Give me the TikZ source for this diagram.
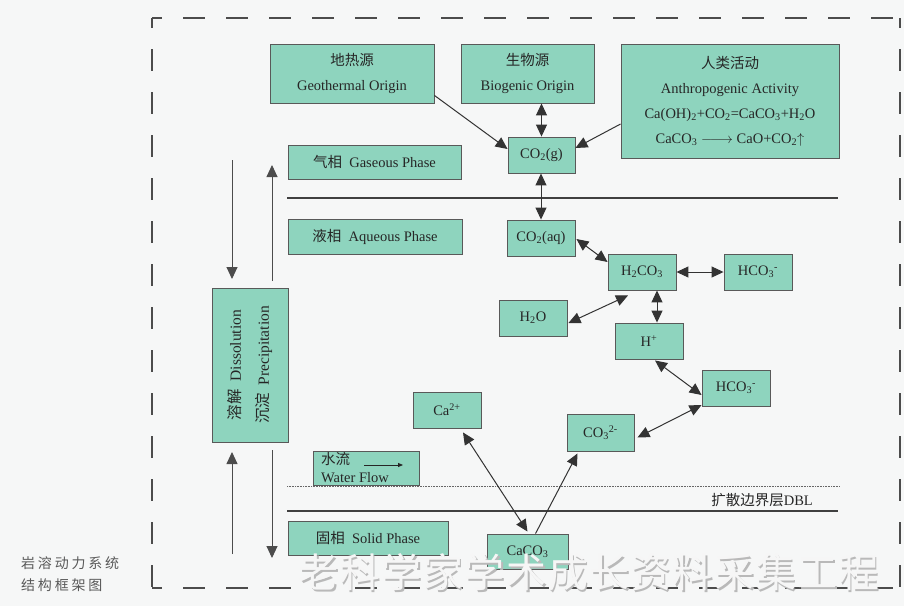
\documentclass[tikz,border=0pt]{standalone}
\usepackage{fontspec}
\setmainfont{Liberation Serif}
\newfontfamily\cjk{Noto Sans CJK SC}
\newfontfamily\capfont[LetterSpace=20]{Noto Sans CJK SC}
\newfontfamily\wmfont[LetterSpace=4]{Noto Sans CJK SC}
\usetikzlibrary{arrows.meta,calc}
\definecolor{boxfill}{RGB}{142,212,190}
\definecolor{bg}{RGB}{246,247,247}
\newcommand\chsub[1]{\textsubscript{#1}}
\newcommand\chsup[1]{\textsuperscript{#1}}
\begin{document}
\begin{tikzpicture}[x=1pt,y=-1pt,
  box/.style={draw=black!65, line width=0.9pt, fill=boxfill, inner sep=0pt,
    text=black!85, font=\fontsize{14.5}{17}\selectfont, align=center},
  conn/.style={draw=black!80, line width=1pt,
    {Triangle[length=12pt,width=11pt]}-{Triangle[length=12pt,width=11pt]}},
  one/.style={draw=black!80, line width=1pt, -{Triangle[length=12pt,width=11pt]}},
  side/.style={draw=black!70, line width=0.9pt, -{Triangle[length=12pt,width=11pt]}},
  sep/.style={draw=black!75, line width=1.3pt},
  border/.style={draw=black!70, line width=1.1pt, dash pattern=on 22pt off 21pt, dash phase=12pt},
  plain/.style={text=black!85, font=\fontsize{14.5}{17}\selectfont, inner sep=0pt}
]
\useasboundingbox[fill=bg] (0,0) rectangle (904,606);

% dashed frame
\draw[border] (152,18) -- (900,18);
\draw[border] (900,18) -- (900,588);
\draw[border] (152,18) -- (152,588);
\draw[border] (152,588) -- (900,588);

% separators
\draw[sep] (287,198) -- (838,198);
\draw[black!60, line width=0.6pt, densely dotted] (287,486) -- (840,486);
\draw[sep] (287,511) -- (838,511);

% top sources
\node[box, minimum width=164pt, minimum height=59pt, font=\fontsize{14.5}{25}\selectfont] (geo) at (352,73.5)
  {{\cjk 地热源}\\Geothermal Origin};
\node[box, minimum width=133pt, minimum height=59pt, font=\fontsize{14.5}{25}\selectfont] (bio) at (527.5,73.5)
  {{\cjk 生物源}\\Biogenic Origin};
\node[box, minimum width=218pt, minimum height=114pt, font=\fontsize{14.5}{25}\selectfont] (anth) at (730,101)
  {{\cjk 人类活动}\\Anthropogenic Activity\\
   Ca(OH)\chsub{2}+CO\chsub{2}=CaCO\chsub{3}+H\chsub{2}O\\
   CaCO\chsub{3} $\relbar\joinrel\relbar\joinrel\rightarrow$ CaO+CO\chsub{2}$\uparrow$};

% phases
\node[box, minimum width=173pt, minimum height=34pt] (gas) at (374.5,162) {{\cjk 气相}\ \ Gaseous Phase};
\node[box, minimum width=174pt, minimum height=35pt] (aq) at (375,236.5) {{\cjk 液相}\ \ Aqueous Phase};
\node[box, minimum width=160pt, minimum height=34pt] (solid) at (368,538) {{\cjk 固相}\ \ Solid Phase};

% species
\node[box, minimum width=67pt, minimum height=36pt] (co2g) at (541.5,155) {CO\chsub{2}(g)};
\node[box, minimum width=68pt, minimum height=36pt] (co2aq) at (541,238) {CO\chsub{2}(aq)};
\node[box, minimum width=68pt, minimum height=36pt] (h2co3) at (642,272) {H\chsub{2}CO\chsub{3}};
\node[box, minimum width=68pt, minimum height=36pt] (hco3a) at (758,272) {HCO\chsub{3}\chsup{-}};
\node[box, minimum width=68pt, minimum height=36pt] (h2o) at (533,318) {H\chsub{2}O};
\node[box, minimum width=68pt, minimum height=36pt] (hplus) at (649,341) {H\chsup{+}};
\node[box, minimum width=68pt, minimum height=36pt] (hco3b) at (736,388) {HCO\chsub{3}\chsup{-}};
\node[box, minimum width=68pt, minimum height=36pt] (ca) at (447,410) {Ca\chsup{2+}};
\node[box, minimum width=67pt, minimum height=37pt] (co3) at (600.5,432.5) {CO\chsub{3}\chsup{2-}};
\node[box, minimum width=81pt, minimum height=35pt] (caco3) at (527.5,551.5) {CaCO\chsub{3}};

% water flow
\node[box, minimum width=106pt, minimum height=34pt] (flow) at (366,468) {};
\node[plain, anchor=west] (flowzh) at (321,459) {\cjk 水流};
\node[plain, anchor=west] (flowen) at (321,478) {Water Flow};
\coordinate (fa) at (364,465);
\coordinate (fb) at (403,465);
\draw[black!85, line width=0.8pt, -{Triangle[length=5pt,width=4pt]}] (fa) -- (fb);

% DBL label
\node[plain, anchor=east] (dbl) at (813,500) {{\cjk 扩散边界层}DBL};

% dissolution / precipitation
\node[box, minimum width=76pt, minimum height=154pt] (diss) at (250,365) {};
\node[plain, rotate=90, align=center, font=\fontsize{15.5}{28}\selectfont] (disstxt) at (diss.center)
  {{\cjk 溶解}\ \ Dissolution\\{\cjk 沉淀}\ \ Precipitation};

\coordinate (d1s) at (232,160); \coordinate (d1e) at (232,279);
\coordinate (u1s) at (272,281); \coordinate (u1e) at (272,165);
\coordinate (u2s) at (232,554); \coordinate (u2e) at (232,452);
\coordinate (d2s) at (272,450); \coordinate (d2e) at (272,558);
\draw[side] (d1s) -- (d1e);
\draw[side] (u1s) -- (u1e);
\draw[side] (u2s) -- (u2e);
\draw[side] (d2s) -- (d2e);

% connectors
\draw[one] ($(geo.south east)+(0,-8)$) -- ($(co2g.west)+(0,-6)$);
\draw[conn] (bio.south -| co2g.north) -- (co2g.north);
\draw[one] ($(anth.west)+(0,23)$) -- ($(co2g.east)+(0,-7)$);
\draw[conn] (co2g.south -| co2aq.north) -- (co2aq.north);
\draw[conn] ($(co2aq.east)+(1,1)$) -- ($(h2co3.west)+(0,-10)$);
\draw[conn] (h2co3.east) -- (hco3a.west);
\draw[conn] ($(h2co3.south)+(-14,5)$) -- ($(h2o.east)+(1,5)$);
\draw[conn] ($(h2co3.south)+(15,0)$) coordinate (hv) -- (hv |- hplus.north);
\draw[conn] ($(hplus.south)+(6,1)$) -- ($(hco3b.west)+(0,7)$);
\draw[conn] ($(hco3b.west)+(0,17)$) -- ($(co3.east)+(3,5)$);
\draw[conn] ($(ca.south)+(16,4)$) -- ($(caco3.north)+(0,-2)$);
\draw[one] ($(caco3.north)+(8,0)$) -- ($(co3.south)+(-23,2)$);

% caption
\node[anchor=west, align=left, text=black!65, inner sep=0pt,
  font=\capfont\fontsize{14}{22}\selectfont] (cap) at (21,574) {岩溶动力系统\\结构框架图};

% watermark
\node[font=\wmfont\fontsize{40}{40}\selectfont, text=gray!55, inner sep=0pt] (wmshadow) at (590.5,574)
  {老科学家学术成长资料采集工程};
\node[font=\wmfont\fontsize{40}{40}\selectfont, text=white!93!gray, inner sep=0pt] (wm) at (589,572.5)
  {老科学家学术成长资料采集工程};
\end{tikzpicture}
\end{document}
